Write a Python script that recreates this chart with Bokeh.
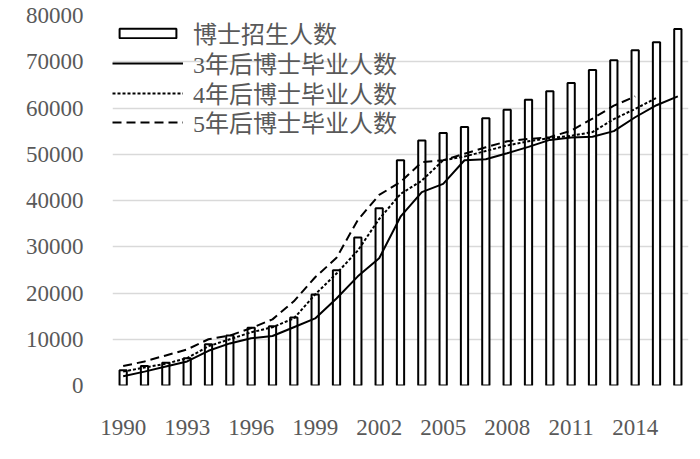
from bokeh.plotting import figure
from bokeh.models import FixedTicker, Legend, LegendItem, ColumnDataSource
from bokeh.embed import file_html
from bokeh.resources import INLINE

years = list(range(1990, 2017))
enroll = [3300, 4200, 4900, 5900, 8900, 10800, 12500, 12800, 14700, 19700,
          24900, 32000, 38300, 48700, 53000, 54600, 55900, 57800, 59600, 61800,
          63600, 65400, 68200, 70300, 72500, 74200, 77100]

grad3_years = list(range(1990, 2017))
grad3 = [2000, 3000, 4100, 5200, 7500, 9100, 10200, 10700, 12600, 14500,
         18800, 23600, 27500, 36500, 41800, 43600, 48700, 48900, 50200, 51600,
         53100, 53600, 53800, 55000, 58000, 60600, 62500]

grad4_years = list(range(1990, 2016))
grad4 = [3000, 3900, 4700, 5900, 8500, 10000, 11500, 12600, 14500, 19700,
         24200, 29200, 36000, 41400, 44300, 48700, 49500, 50700, 51900, 52800,
         53500, 54000, 54800, 57600, 59800, 62200]

grad5_years = list(range(1990, 2015))
grad5 = [4200, 5200, 6500, 7800, 10000, 10800, 12400, 14300, 18200, 23400,
         27600, 35800, 41200, 44000, 48300, 48700, 50100, 51500, 52800, 53300,
         53700, 55100, 57700, 60500, 62500]

x_ticks = [1990, 1993, 1996, 1999, 2002, 2005, 2008, 2011, 2014]
y_ticks = [0, 10000, 20000, 30000, 40000, 50000, 60000, 70000, 80000]

labels = ["博士招生人数", "3年后博士毕业人数", "4年后博士毕业人数", "5年后博士毕业人数"]

TXT = "#595959"
GRID = "#d9d9d9"
SERIF = "Liberation Serif"

p = figure(width=700, height=459, x_range=(1989.5, 2016.5), y_range=(0, 80000),
           output_backend="svg", toolbar_location=None,
           min_border_left=112, min_border_right=12, min_border_top=15, min_border_bottom=74)
p.outline_line_color = None
p.background_fill_color = "white"
p.border_fill_color = "white"

src_bar = ColumnDataSource(dict(x=years, y=enroll))
bars = p.vbar(x="x", top="y", width=0.34, source=src_bar, fill_color="white",
              line_color="black", line_width=2)
l3 = p.line(grad3_years, grad3, line_color="black", line_width=2)
l4 = p.line(grad4_years, grad4, line_color="black", line_width=2, line_dash="3 2")
l5 = p.line(grad5_years, grad5, line_color="black", line_width=2, line_dash="9 5")

p.xgrid.grid_line_color = None
p.ygrid.grid_line_color = GRID
p.ygrid.grid_line_width = 1.5
p.ygrid.level = "underlay"

p.yaxis.ticker = FixedTicker(ticks=y_ticks)
p.xaxis.ticker = FixedTicker(ticks=x_ticks)
for ax in (p.xaxis[0], p.yaxis[0]):
    ax.axis_line_color = None
    ax.major_tick_line_color = None
    ax.minor_tick_line_color = None
    ax.major_tick_in = 0
    ax.major_tick_out = 0
    ax.major_label_text_font = SERIF
    ax.major_label_text_font_size = "23px"
    ax.major_label_text_color = TXT
p.yaxis.major_label_standoff = 29
p.xaxis.major_label_standoff = 34

# one single-item legend per row, so the row pitch can match the reference
row_offsets = [335, 305, 275, 246]
for label, rend, off in zip(labels, [bars, l3, l4, l5], row_offsets):
    lg = Legend(items=[LegendItem(label=label, renderers=[rend])],
                location=(0, off), glyph_width=71, glyph_height=12, label_standoff=10,
                spacing=0, padding=0, margin=0, border_line_color=None,
                background_fill_alpha=0,
                label_text_font=SERIF + ", Noto Sans CJK SC", label_text_font_size="24px",
                label_text_color=TXT, label_height=12)
    p.add_layout(lg, "center")

open("out.html", "w").write(file_html(p, INLINE))
